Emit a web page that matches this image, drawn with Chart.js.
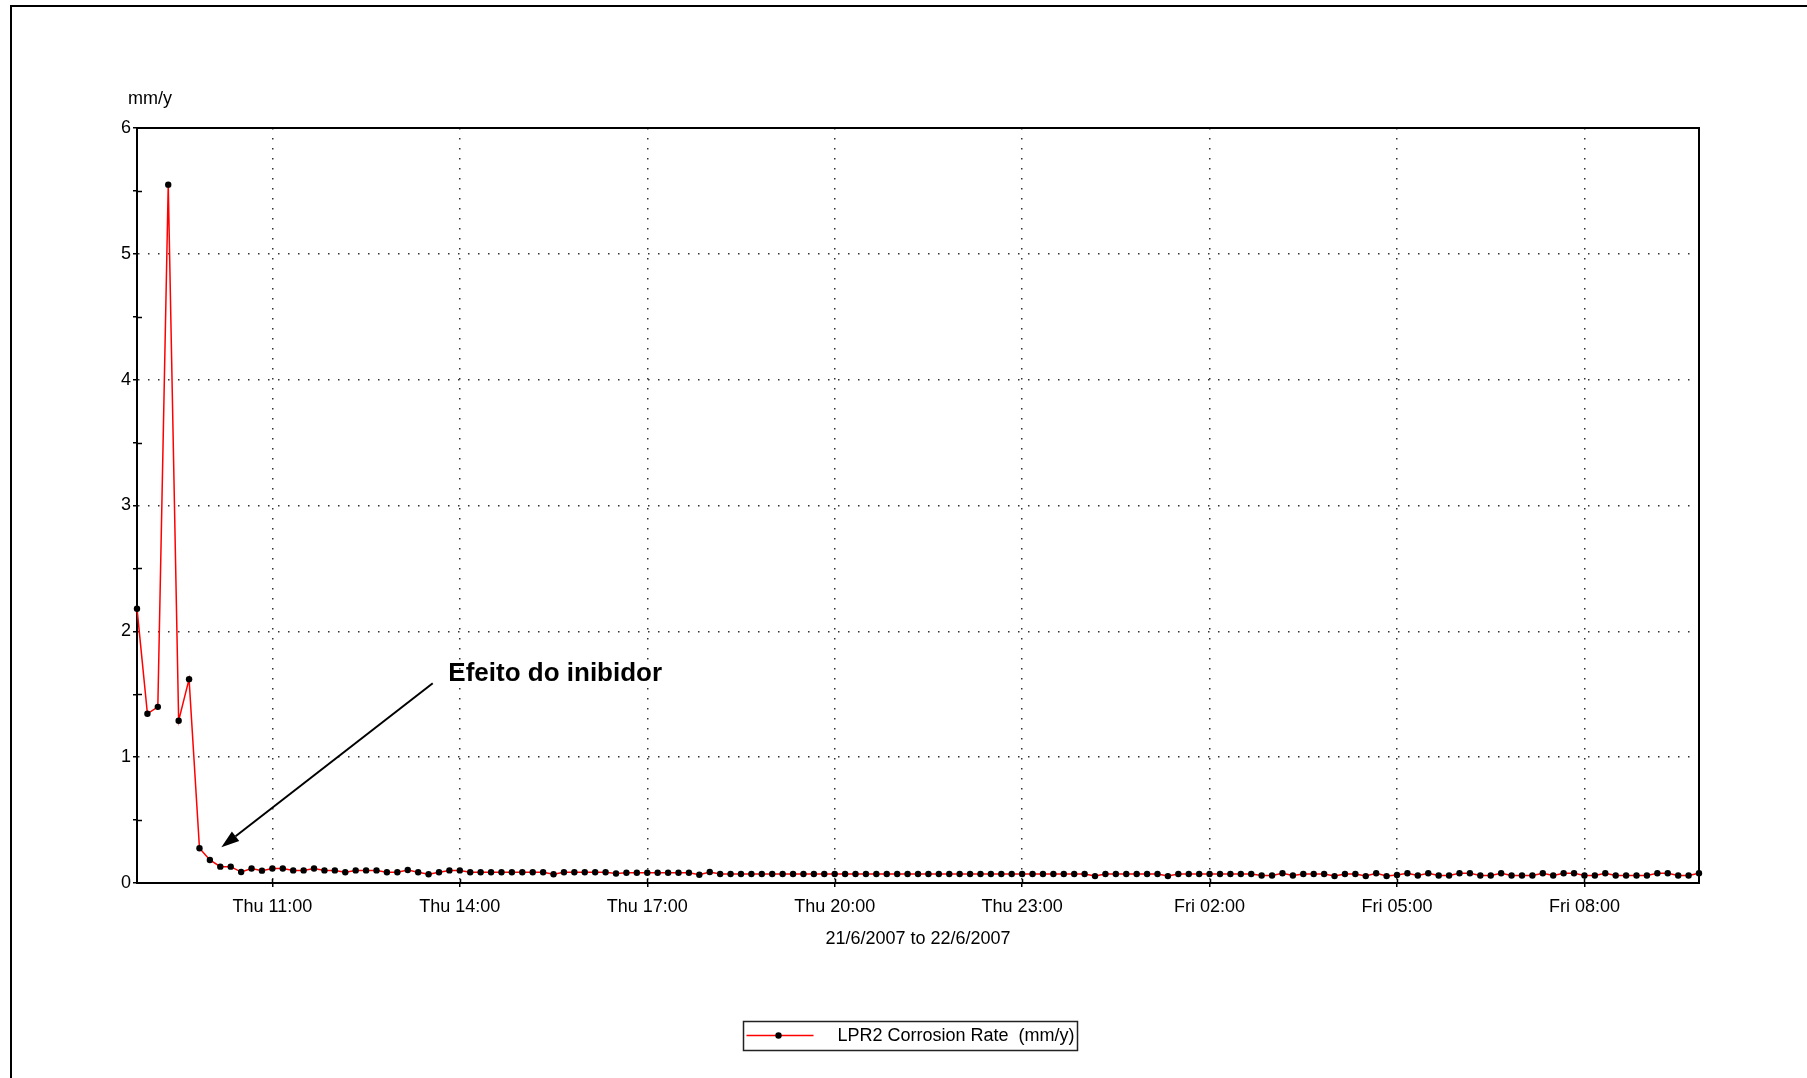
<!DOCTYPE html>
<html>
<head>
<meta charset="utf-8">
<title>LPR2 Corrosion Rate</title>
<script src="https://cdn.jsdelivr.net/npm/chart.js@4.4.1/dist/chart.umd.min.js"></script>
<style>
  html, body { margin: 0; padding: 0; background: #fff; overflow: hidden; }
  #wrap { position: relative; width: 1807px; height: 1078px; }
  canvas { display: block; }
</style>
</head>
<body>
<div id="wrap"><canvas id="chart" width="1807" height="1078"></canvas></div>
<script>
// Logged corrosion rate (mm/y), one reading every 10 minutes,
// from Thu 21/6/2007 08:50 to Fri 22/6/2007 09:50.
const firstReadingMinute = 530;     // minutes after Thu 00:00
const readingStepMinutes = 10;
const corrosionRate = [
  2.18, 1.345, 1.40, 5.55, 1.29, 1.62, 0.276, 0.183, 0.13, 0.13,
  0.087, 0.115, 0.098, 0.115, 0.115, 0.10, 0.10, 0.115, 0.10, 0.10,
  0.085, 0.10, 0.10, 0.10, 0.085, 0.085, 0.103, 0.085, 0.07, 0.085,
  0.10, 0.10, 0.085, 0.085, 0.085, 0.085, 0.085, 0.085, 0.085, 0.085,
  0.07, 0.085, 0.085, 0.085, 0.085, 0.085, 0.075, 0.082, 0.082, 0.082,
  0.082, 0.082, 0.082, 0.082, 0.066, 0.087, 0.072, 0.072, 0.072, 0.072,
  0.072, 0.072, 0.072, 0.072, 0.072, 0.072, 0.072, 0.072, 0.072, 0.072,
  0.072, 0.072, 0.072, 0.072, 0.072, 0.072, 0.072, 0.072, 0.072, 0.072,
  0.072, 0.072, 0.072, 0.072, 0.072, 0.072, 0.072, 0.072, 0.072, 0.072,
  0.072, 0.072, 0.055, 0.072, 0.072, 0.072, 0.072, 0.072, 0.072, 0.055,
  0.072, 0.072, 0.072, 0.072, 0.072, 0.072, 0.072, 0.072, 0.06, 0.06,
  0.077, 0.06, 0.072, 0.072, 0.072, 0.055, 0.072, 0.072, 0.055, 0.077,
  0.055, 0.063, 0.077, 0.06, 0.077, 0.06, 0.06, 0.077, 0.077, 0.06,
  0.06, 0.077, 0.06, 0.06, 0.06, 0.077, 0.06, 0.077, 0.077, 0.06,
  0.06, 0.077, 0.06, 0.06, 0.06, 0.06, 0.077, 0.077, 0.06, 0.06,
  0.077
];
const seriesLabel = 'LPR2 Corrosion Rate  (mm/y)';

// Time axis
const timeMin = 530;    // Thu 08:50
const timeMax = 2030;   // Fri 09:50
const xTickValues = [660, 840, 1020, 1200, 1380, 1560, 1740, 1920];
const xTickLabels = ['Thu 11:00', 'Thu 14:00', 'Thu 17:00', 'Thu 20:00',
                     'Thu 23:00', 'Fri 02:00', 'Fri 05:00', 'Fri 08:00'];
const xAxisTitle = '21/6/2007 to 22/6/2007';

// Rate axis
const yTickValues = [0, 0.5, 1, 1.5, 2, 2.5, 3, 3.5, 4, 4.5, 5, 5.5, 6];
const yUnit = 'mm/y';

// Callout (in axis units)
const noteText = 'Efeito do inibidor';
const noteAnchor = { x: 829, y: 1.66 };
const arrowTail = { x: 814, y: 1.587 };
const arrowTip = { x: 611, y: 0.284 };

const FONT = "'Liberation Sans', Arial, Helvetica, sans-serif";

const points = corrosionRate.map((v, i) => ({ x: firstReadingMinute + i * readingStepMinutes, y: v }));

const frame = {
  id: 'frame',
  beforeDraw(chart) {
    const ctx = chart.ctx;
    ctx.save();
    ctx.strokeStyle = '#000';
    ctx.lineWidth = 2;
    ctx.strokeRect(11, 6, 3000, 3000);
    ctx.restore();
  },
  beforeDatasetsDraw(chart) {
    const { ctx, chartArea: a, scales: { x, y } } = chart;
    ctx.save();
    ctx.strokeStyle = '#000';
    ctx.lineWidth = 2;
    ctx.strokeRect(a.left, a.top, a.right - a.left, a.bottom - a.top);
    ctx.lineWidth = 1.5;
    ctx.beginPath();
    xTickValues.forEach(v => {
      const px = Math.round(x.getPixelForValue(v)) + 0.5;
      ctx.moveTo(px, a.bottom);
      ctx.lineTo(px, a.bottom - 4);
    });
    yTickValues.filter(v => !Number.isInteger(v)).forEach(v => {
      const py = Math.round(y.getPixelForValue(v)) + 0.5;
      ctx.moveTo(a.left, py);
      ctx.lineTo(a.left + 5, py);
    });
    ctx.stroke();
    ctx.restore();
  },
  afterDraw(chart) {
    const { ctx, chartArea: a, scales: { x, y } } = chart;
    ctx.save();
    // unit label above the rate axis
    ctx.fillStyle = '#000';
    ctx.font = '18px ' + FONT;
    ctx.textAlign = 'left';
    ctx.textBaseline = 'alphabetic';
    ctx.fillText(yUnit, a.left - 9, a.top - 24);

    // callout arrow
    const tx = x.getPixelForValue(arrowTail.x), ty = y.getPixelForValue(arrowTail.y);
    const hx = x.getPixelForValue(arrowTip.x), hy = y.getPixelForValue(arrowTip.y);
    const ang = Math.atan2(hy - ty, hx - tx);
    const len = 18, half = 6;
    const bx = hx - len * Math.cos(ang), by = hy - len * Math.sin(ang);
    ctx.strokeStyle = '#000';
    ctx.lineWidth = 2;
    ctx.beginPath();
    ctx.moveTo(tx, ty);
    ctx.lineTo(bx, by);
    ctx.stroke();
    ctx.beginPath();
    ctx.moveTo(hx, hy);
    ctx.lineTo(bx + half * Math.sin(ang), by - half * Math.cos(ang));
    ctx.lineTo(bx - half * Math.sin(ang), by + half * Math.cos(ang));
    ctx.closePath();
    ctx.fillStyle = '#000';
    ctx.fill();

    ctx.font = 'bold 26px ' + FONT;
    ctx.textBaseline = 'middle';
    ctx.fillText(noteText, x.getPixelForValue(noteAnchor.x), y.getPixelForValue(noteAnchor.y));

    // legend box
    const ds = chart.data.datasets[0];
    const cx = (a.left + a.right) / 2;
    const boxL = Math.round(cx - 175) + 0.5, boxT = 1021.5, boxW = 334, boxH = 29;
    ctx.lineWidth = 1.5;
    ctx.strokeStyle = '#222';
    ctx.strokeRect(boxL, boxT, boxW, boxH);
    const ly = boxT + 14;
    ctx.strokeStyle = ds.borderColor;
    ctx.lineWidth = 1.5;
    ctx.beginPath();
    ctx.moveTo(boxL + 3, ly);
    ctx.lineTo(boxL + 70, ly);
    ctx.stroke();
    ctx.fillStyle = ds.pointBackgroundColor;
    ctx.beginPath();
    ctx.arc(boxL + 35, ly, 3.2, 0, Math.PI * 2);
    ctx.fill();
    ctx.fillStyle = '#000';
    ctx.font = '18px ' + FONT;
    ctx.textBaseline = 'middle';
    ctx.fillText(ds.label, boxL + 94, ly + 1);
    ctx.restore();
  }
};

new Chart(document.getElementById('chart'), {
  type: 'line',
  data: {
    datasets: [{
      label: seriesLabel,
      data: points,
      borderColor: '#ff0000',
      borderWidth: 1.5,
      tension: 0,
      pointRadius: 3.2,
      pointBackgroundColor: '#000000',
      pointBorderWidth: 0,
      clip: false
    }]
  },
  options: {
    responsive: false,
    animation: false,
    devicePixelRatio: 1,
    events: [],
    layout: { padding: { left: 97, top: 128, right: 108, bottom: 125 } },
    plugins: { legend: { display: false }, tooltip: { enabled: false } },
    scales: {
      x: {
        type: 'linear',
        min: timeMin,
        max: timeMax,
        afterBuildTicks: s => { s.ticks = xTickValues.map(v => ({ value: v })); },
        afterFit: s => { s.height = 70; },
        ticks: {
          autoSkip: false,
          maxRotation: 0,
          padding: 9,
          color: '#000',
          font: { family: FONT, size: 18 },
          callback: v => { const i = xTickValues.indexOf(v); return i >= 0 ? xTickLabels[i] : ''; }
        },
        grid: {
          color: '#333',
          lineWidth: 1.5,
          tickLength: 4,
          tickColor: '#000',
          tickWidth: 1.5
        },
        border: { display: true, color: '#000', width: 2, dash: [1.5, 8.5] },
        title: {
          display: true,
          text: xAxisTitle,
          color: '#000',
          font: { family: FONT, size: 18 },
          padding: { top: 0, bottom: 3 }
        }
      },
      y: {
        min: 0,
        max: 6,
        afterBuildTicks: s => { s.ticks = yTickValues.map(v => ({ value: v })); },
        afterFit: s => { s.width = 40; },
        ticks: {
          padding: 2,
          color: '#000',
          font: { family: FONT, size: 18 },
          callback: v => Number.isInteger(v) ? String(v) : ''
        },
        grid: {
          color: c => (Number.isInteger(c.tick.value) && c.tick.value > 0 && c.tick.value < 6) ? '#333' : 'rgba(0,0,0,0)',
          lineWidth: 1.5,
          tickLength: 4,
          tickColor: '#000',
          tickWidth: 1.5
        },
        border: { display: true, color: '#000', width: 2, dash: [1.5, 8.5] }
      }
    }
  },
  plugins: [frame]
});
</script>
</body>
</html>
